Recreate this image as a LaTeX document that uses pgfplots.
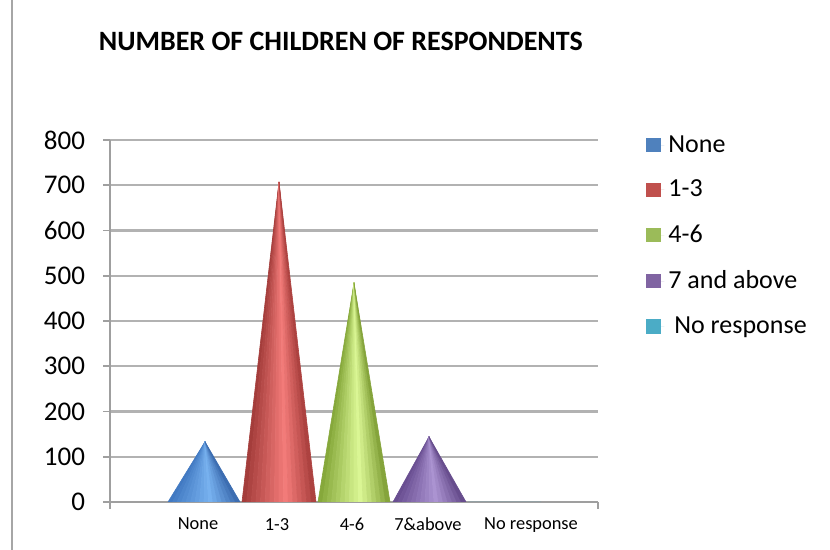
\documentclass[border=0pt]{standalone}
\usepackage{pgfplots}
\pgfplotsset{compat=1.18}
\usepackage{fontspec}
\setmainfont{Carlito}
\definecolor{c1}{HTML}{4F81BD}
\definecolor{c2}{HTML}{C0504D}
\definecolor{c3}{HTML}{9BBB59}
\definecolor{c4}{HTML}{8064A2}
\definecolor{c5}{HTML}{4BACC6}
\definecolor{bL}{HTML}{3E76C0}\definecolor{bM}{HTML}{78B2F0}\definecolor{bR}{HTML}{3868AC}
\definecolor{rL}{HTML}{A03A38}\definecolor{rM}{HTML}{F47C7A}\definecolor{rR}{HTML}{A83E3C}
\definecolor{gL}{HTML}{82A436}\definecolor{gM}{HTML}{DCF896}\definecolor{gR}{HTML}{7E9E34}
\definecolor{pL}{HTML}{654A8E}\definecolor{pM}{HTML}{AC94D2}\definecolor{pR}{HTML}{624888}
% one cone: left base, apex x, right base, value, colours L M R
\newcommand\cone[7]{%
  \pgfplotsinvokeforeach{0,...,15}{%
    \pgfmathsetmacro\xa{#1+(#3-#1)*##1/16}%
    \pgfmathsetmacro\xb{#1+(#3-#1)*(##1+1)/16}%
    \pgfmathsetmacro\tt{(##1+0.5)/16}%
    \ifdim\tt pt<0.6pt
      \pgfmathtruncatemacro\pp{100*\tt/0.6}\def\base{#5}%
    \else
      \pgfmathtruncatemacro\pp{100*(1-\tt)/0.4}\def\base{#7}%
    \fi
    \edef\cmd{\noexpand\addplot[fill=#6!\pp!\base, draw=#6!\pp!\base,
      line width=0.3pt, line join=round, forget plot]
      coordinates {(\xa,0) (#2,#4) (\xb,0)} -- cycle;}%
    \cmd
  }%
}
\begin{document}
\begin{tikzpicture}
\useasboundingbox (0,0) rectangle (415pt,275pt);
\draw[gray!70, line width=0.8pt] (6pt,0) -- (6pt,275pt);
\begin{axis}[
  at={(55pt,24pt)}, anchor=south west,
  scale only axis, width=244pt, height=181pt,
  xmin=110, xmax=598, ymin=0, ymax=800,
  ytick={0,100,...,800},
  ymajorgrids,
  major grid style={draw=gray!60, line width=1.1pt},
  xtick={110,598}, xticklabels={},
  extra x ticks={198,277,352,428,531},
  extra x tick labels={None,1-3,4-6,7\&above,No response},
  extra x tick style={major tick length=0pt, grid=none},
  x tick label style={font=\fontsize{9.2}{11}\selectfont, yshift=-4.5pt},
  y tick label style={font=\fontsize{13.5}{15}\selectfont, xshift=-5.5pt},
  /pgf/number format/assume math mode=true,
  axis x line*=bottom, axis y line*=left,
  axis line style={draw=gray!75, line width=0.9pt, -},
  tick align=outside, major tick length=3.5pt,
  tick style={draw=gray!75, line width=0.9pt},
  title={NUMBER OF CHILDREN OF RESPONDENTS},
  title style={at={(0.473,1.239)}, anchor=center, yshift=0pt, font=\fontsize{14}{16}\selectfont\bfseries},
  legend style={at={(1.086,1.036)}, anchor=north west, draw=none, fill=none,
    font=\fontsize{13}{15}\selectfont, row sep=8.5pt},
  legend cell align=left,
  legend image code/.code={\fill[#1] (0pt,-3.6pt) rectangle (7.5pt,3.6pt); \path (0pt,0pt) -- (9pt,0pt);},
]
% values: None 133, 1-3 707, 4-6 484, 7&above 144, No response 0
\cone{168}{205}{240}{133}{bL}{bM}{bR}
\cone{242}{279}{316}{707}{rL}{rM}{rR}
\cone{318}{354}{390}{484}{gL}{gM}{gR}
\cone{393}{429}{466}{144}{pL}{pM}{pR}
\addplot[draw=none, fill=c5, forget plot]
  coordinates {(468,0) (504,0) (541,0)} -- cycle;
\addlegendimage{fill=c1, draw=none}\addlegendentry{None}
\addlegendimage{fill=c2, draw=none}\addlegendentry{1-3}
\addlegendimage{fill=c3, draw=none}\addlegendentry{4-6}
\addlegendimage{fill=c4, draw=none}\addlegendentry{7 and above}
\addlegendimage{fill=c5, draw=none}\addlegendentry{\hspace{3pt}No response}
\end{axis}
\end{tikzpicture}
\end{document}
